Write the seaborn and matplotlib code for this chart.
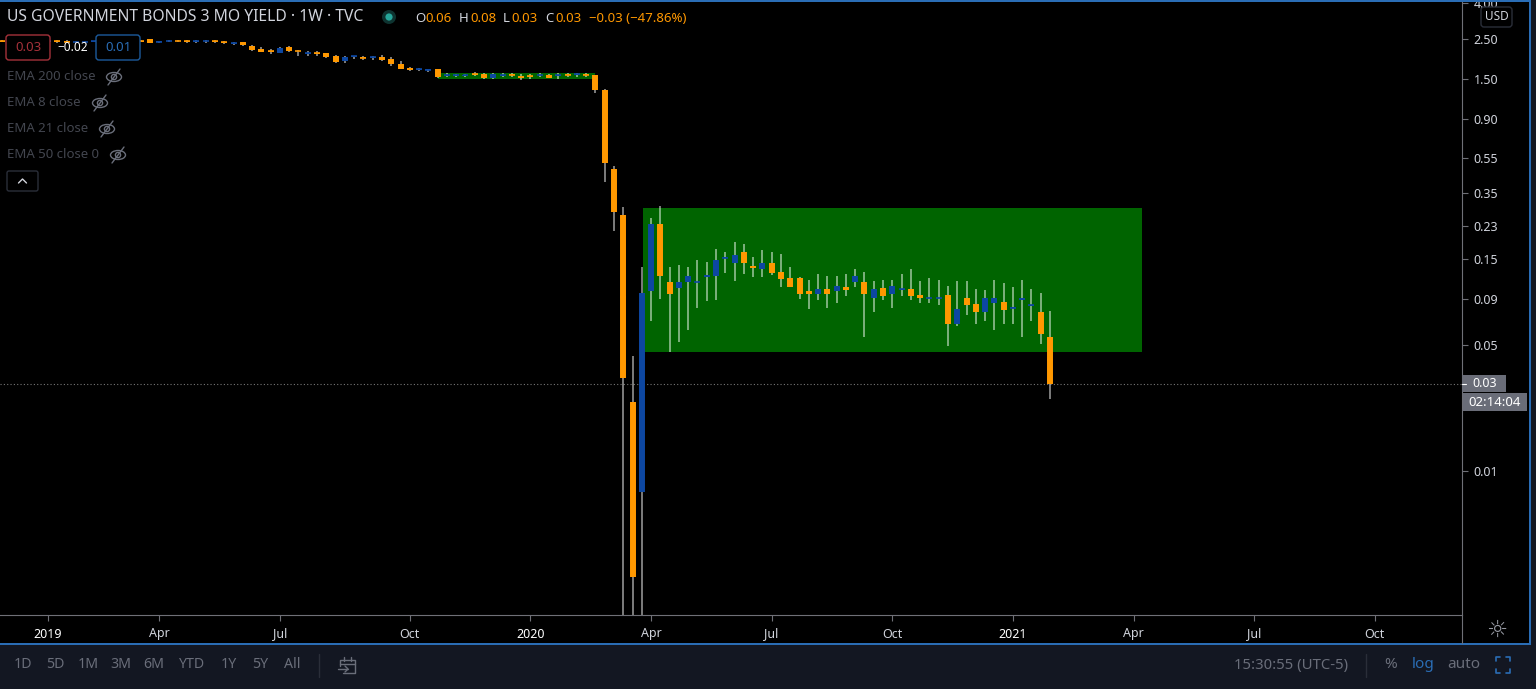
#!/usr/bin/env python3

""" US 3 month yield, weekly candles (log scale) """

import numpy as np
import pandas as pd
import seaborn as sns
import matplotlib.pyplot as plt
from matplotlib.patches import Rectangle, FancyBboxPatch, Ellipse, Circle

# weekly candles, 114 bars
opens = [2.44, 2.44, 2.43, 2.44, 2.43, 2.43, 2.44, 2.44, 2.42, 2.42,
         2.43, 2.44, 2.43, 2.44, 2.43, 2.44, 2.50, 2.41, 2.44, 2.46,
         2.45, 2.42, 2.44, 2.46, 2.42, 2.37, 2.41, 2.31, 2.22, 2.15,
         2.10, 2.26, 2.16, 2.08, 2.10, 2.09, 2.03, 1.89, 2.00, 1.99,
         1.98, 2.00, 1.95, 1.83, 1.74, 1.69, 1.68, 1.71, 1.57, 1.57,
         1.57, 1.61, 1.60, 1.53, 1.57, 1.60, 1.57, 1.56, 1.58, 1.58,
         1.57, 1.60, 1.59, 1.60, 1.58, 1.31, 0.476, 0.263, 0.0243, 0.00765,
         0.100, 0.2356, 0.1126, 0.1035, 0.1118, 0.1119, 0.1192, 0.1212, 0.1520, 0.1436,
         0.1641, 0.1377, 0.1320, 0.1436, 0.1275, 0.1176, 0.1181, 0.1000, 0.0959, 0.1026,
         0.1004, 0.1048, 0.1118, 0.1126, 0.0911, 0.1043, 0.0962, 0.1017, 0.1022, 0.0950,
         0.0911, 0.0911, 0.0946, 0.0653, 0.0914, 0.0850, 0.0765, 0.0860, 0.0869, 0.0805,
         0.0888, 0.0829, 0.0767, 0.0558]
highs = [2.47, 2.47, 2.46, 2.47, 2.46, 2.46, 2.48, 2.48, 2.46, 2.46,
         2.46, 2.47, 2.46, 2.47, 2.46, 2.47, 2.51, 2.46, 2.49, 2.49,
         2.48, 2.49, 2.47, 2.47, 2.45, 2.41, 2.42, 2.32, 2.26, 2.20,
         2.26, 2.30, 2.19, 2.16, 2.16, 2.10, 2.04, 2.02, 2.03, 2.02,
         2.01, 2.05, 1.99, 1.90, 1.76, 1.74, 1.71, 1.72, 1.62, 1.61,
         1.61, 1.65, 1.62, 1.62, 1.62, 1.63, 1.61, 1.60, 1.63, 1.61,
         1.62, 1.63, 1.62, 1.63, 1.59, 1.32, 0.495, 0.293, 0.0435, 0.1365,
         0.2556, 0.2967, 0.1359, 0.1395, 0.1359, 0.1487, 0.1453, 0.1711, 0.1647, 0.1871,
         0.1815, 0.1539, 0.1690, 0.1647, 0.1599, 0.1359, 0.1190, 0.1151, 0.1243, 0.1207,
         0.1207, 0.1248, 0.1320, 0.1275, 0.1131, 0.1151, 0.1151, 0.1248, 0.1331, 0.1140,
         0.1181, 0.1151, 0.1066, 0.1131, 0.1131, 0.1022, 0.1009, 0.1151, 0.1104, 0.1056,
         0.1151, 0.1022, 0.0971, 0.0771]
lows = [2.41, 2.41, 2.41, 2.41, 2.41, 2.41, 2.40, 2.40, 2.40, 2.40,
        2.41, 2.41, 2.41, 2.41, 2.41, 2.41, 2.39, 2.40, 2.41, 2.41,
        2.39, 2.38, 2.40, 2.40, 2.36, 2.33, 2.29, 2.16, 2.12, 2.08,
        2.10, 2.13, 2.02, 2.03, 2.03, 1.98, 1.85, 1.85, 1.94, 1.92,
        1.91, 1.90, 1.78, 1.70, 1.66, 1.66, 1.64, 1.52, 1.55, 1.55,
        1.55, 1.56, 1.51, 1.50, 1.55, 1.55, 1.49, 1.50, 1.55, 1.52,
        1.50, 1.55, 1.55, 1.55, 1.26, 0.405, 0.216, 0.001, 0.001, 0.001,
        0.0677, 0.0903, 0.0458, 0.0518, 0.0607, 0.0808, 0.0883, 0.0891, 0.1259, 0.1131,
        0.1238, 0.1196, 0.1196, 0.1232, 0.1056, 0.1050, 0.0906, 0.0791, 0.0891, 0.0808,
        0.0860, 0.0942, 0.1056, 0.0555, 0.0765, 0.0891, 0.0808, 0.0942, 0.0891, 0.0860,
        0.0860, 0.0833, 0.0497, 0.0635, 0.0731, 0.0653, 0.0682, 0.0605, 0.0653, 0.0653,
        0.0555, 0.0682, 0.0510, 0.0252]
closes = [2.43, 2.43, 2.44, 2.43, 2.42, 2.44, 2.43, 2.42, 2.43, 2.43,
          2.44, 2.43, 2.44, 2.43, 2.44, 2.43, 2.40, 2.45, 2.46, 2.44,
          2.42, 2.45, 2.46, 2.41, 2.39, 2.40, 2.32, 2.19, 2.12, 2.13,
          2.25, 2.16, 2.15, 2.10, 2.08, 2.00, 1.87, 2.00, 2.02, 1.97,
          2.00, 1.91, 1.82, 1.71, 1.69, 1.71, 1.70, 1.55, 1.59, 1.59,
          1.58, 1.59, 1.53, 1.60, 1.58, 1.58, 1.53, 1.55, 1.59, 1.53,
          1.58, 1.58, 1.60, 1.58, 1.31, 0.514, 0.275, 0.0329, 0.00258, 0.0975,
          0.2356, 0.1212, 0.0958, 0.1126, 0.1212, 0.1126, 0.1227, 0.1487, 0.1539, 0.1585,
          0.1426, 0.1347, 0.1436, 0.1264, 0.1170, 0.1056, 0.0959, 0.0959, 0.1026, 0.0959,
          0.1066, 0.1013, 0.1212, 0.0958, 0.1022, 0.0942, 0.1066, 0.1030, 0.0938, 0.0911,
          0.0918, 0.0918, 0.0653, 0.0791, 0.0833, 0.0765, 0.0914, 0.0914, 0.0787, 0.0812,
          0.0914, 0.0836, 0.0579, 0.0304]

# axis ticks
price_ticks = [4.00, 2.50, 1.50, 0.90, 0.55, 0.35, 0.23, 0.15, 0.09, 0.05, 0.01]
price_labels = ['4.00', '2.50', '1.50', '0.90', '0.55', '0.35', '0.23', '0.15', '0.09', '0.05', '0.01']
time_ticks = [5, 17, 30, 44, 57, 70, 83, 96, 109, 122, 135, 148]
time_labels = ['2019', 'Apr', 'Jul', 'Oct', '2020', 'Apr', 'Jul', 'Oct', '2021', 'Apr', 'Jul', 'Oct']

# green boxes drawn on the chart (weeks, prices)
box_weeks = [(47.0, 64.0), (69.1, 122.9)]
box_prices = [(1.51, 1.62), (0.0458, 0.289)]

# toolbar
ranges = ['1D', '5D', '1M', '3M', '6M', 'YTD', '1Y', '5Y', 'All']
range_x = [23, 55, 88, 121, 154, 192, 229, 260, 292]

ORANGE = '#ff9800'
BLUE = '#0d47a1'
WICK = (1, 1, 1, 0.55)
GREEN = '#006400'
AXIS = '#6f7077'
TEXT = '#d1d4dc'
MUTED = '#6a6e7a'
DIM = '#43464f'
TOOLBAR = '#131722'
BORDER = '#2a6db5'
LINE = '#2a2e39'

sns.set_theme(style='dark', rc={'figure.facecolor': 'black', 'axes.facecolor': 'black'})
plt.rcParams['font.family'] = ['Noto Sans', 'DejaVu Sans']

W, H = 1536, 689
fig = plt.figure(figsize=(W / 100, H / 100), dpi=100)
ax = fig.add_axes([0, (H - 615) / H, 1462 / W, 613 / H], zorder=1)

# %% candles
df = pd.DataFrame({'week': range(len(opens)), 'open': opens, 'high': highs, 'low': lows, 'close': closes})
df['up'] = df['close'] >= df['open']
df['mid'] = np.sqrt(df['open'] * df['close'])

wicks = df.melt(id_vars='week', value_vars=['high', 'low'], value_name='price')
bodies = df.melt(id_vars=['week', 'up'], value_vars=['open', 'close'], value_name='price')
colors = {True: BLUE, False: ORANGE}

ax.set_yscale('log')
for (w0, w1), (p0, p1) in zip(box_weeks, box_prices):
    ax.add_patch(Rectangle((w0, p0), w1 - w0, p1 - p0, fc=GREEN, ec='none', zorder=1))

ax.axhline(closes[-1], color='#777777', lw=0.8, ls=(0, (1, 2)), zorder=1.5)
sns.lineplot(data=wicks, x='week', y='price', units='week', estimator=None, color=WICK,
             lw=1.25, solid_capstyle='butt', legend=False, ax=ax, zorder=2)
sns.lineplot(data=bodies[~bodies['up']], x='week', y='price', units='week', estimator=None, color=ORANGE,
             lw=4.3, solid_capstyle='butt', legend=False, ax=ax, zorder=3)
sns.lineplot(data=bodies[bodies['up']], x='week', y='price', units='week', estimator=None, color=BLUE,
             lw=4.3, solid_capstyle='butt', legend=False, ax=ax, zorder=3)
# thin bodies still show as a dash
sns.scatterplot(data=df, x='week', y='mid', hue='up', palette=colors, marker='_', s=18.5, linewidth=1.2,
                legend=False, ax=ax, zorder=3)

# %% axes
ax.set_xlim(-0.17, 157.4)
ax.set_ylim(0.001585, 4.03)
ax.set_xlabel('')
ax.set_ylabel('')
ax.set_facecolor('black')
ax.yaxis.tick_right()
ax.set_yticks(price_ticks, price_labels)
ax.minorticks_off()
ax.set_xticks(time_ticks, time_labels)
ax.tick_params(axis='y', length=4, width=0.8, color=AXIS, labelcolor=TEXT, labelsize=9, pad=4.5, right=True)
ax.tick_params(axis='x', length=4, width=0.8, color=AXIS, labelcolor=TEXT, labelsize=9, pad=5, bottom=True)
for lab in ax.get_xticklabels():
    if lab.get_text().isdigit():
        lab.set_fontweight('bold')
        lab.set_color('white')
for side in ['left', 'top']:
    ax.spines[side].set_visible(False)
for side in ['right', 'bottom']:
    ax.spines[side].set_color(AXIS)
    ax.spines[side].set_linewidth(0.8)

# %% everything around the chart, in pixels
ov = fig.add_axes([0, 0, 1, 1], zorder=2)
ov.set_xlim(0, W)
ov.set_ylim(H, 0)
ov.axis('off')
ov.patch.set_alpha(0)


def label(x, y, s, color=TEXT, size=9, ha='left', **kw):
    ov.text(x, y, s, color=color, fontsize=size, ha=ha, va='center', **kw)


def box(x0, y0, x1, y1, fc='black', ec='none', round_=0, lw=1):
    if round_:
        ov.add_patch(FancyBboxPatch((x0, y0), x1 - x0, y1 - y0, boxstyle=f'round,pad=0,rounding_size={round_}',
                                    fc=fc, ec=ec, lw=lw))
    else:
        ov.add_patch(Rectangle((x0, y0), x1 - x0, y1 - y0, fc=fc, ec=ec, lw=lw))


def eye(x, y):
    ov.add_patch(Ellipse((x, y), 15, 9, fc='none', ec=MUTED, lw=1))
    ov.add_patch(Circle((x, y), 2.6, fc='none', ec=MUTED, lw=1))
    ov.plot([x - 6, x + 6], [y + 8, y - 8], color=MUTED, lw=1)


# frame and toolbar
box(0, 645, W, H, fc=TOOLBAR)
box(1531, 0, W, H, fc=TOOLBAR)
box(0, 0, 1531, 2, fc=BORDER)
box(0, 643, 1531, 645, fc=BORDER)
box(1529, 0, 1531, 645, fc=BORDER)
ov.plot([1462, 1462], [615, 643], color=AXIS, lw=0.8)

# header
label(7, 17, 'US GOVERNMENT BONDS 3 MO YIELD · 1W · TVC', size=11.3)
ov.add_patch(Circle((389, 17), 7, fc='#0e3330', ec='none'))
ov.add_patch(Circle((389, 17), 3.6, fc='#26a69a', ec='none'))
for x, name, x2, val in [(415, 'O', 425, '0.06'), (459, 'H', 470, '0.08'), (503, 'L', 511, '0.03'), (545, 'C', 555, '0.03')]:
    label(x, 18, name, size=9.5)
    label(x2, 18, val, color=ORANGE, size=9.5)
label(589, 18, '−0.03 (−47.86%)', color=ORANGE, size=9.5)

# buy / sell boxes
box(6, 35, 50, 60, ec='#a5313a', round_=3)
label(28, 47.5, '0.03', color='#a5313a', size=9.5, ha='center')
label(73, 47.5, '−0.02', color='white', size=8.5, ha='center')
box(96, 35, 140, 60, ec='#1c5a9c', round_=3)
label(118, 47.5, '0.01', color='#2a6db5', size=9.5, ha='center')

# indicators
for y, s, ex in [(77, 'EMA 200 close', 114), (103, 'EMA 8 close', 100), (129, 'EMA 21 close', 107), (155, 'EMA 50 close 0', 118)]:
    label(7, y, s, color=DIM, size=9.5)
    eye(ex, y)
box(7, 171, 38, 191, ec=LINE, round_=2)
ov.plot([18.5, 22.5, 26.5], [183, 179, 183], color=TEXT, lw=1)

# price scale
box(1481, 7, 1512, 27, ec=LINE, round_=3)
label(1496.5, 17, 'USD', size=8.5, ha='center')
box(1462, 375, 1506, 392, fc='#6a6d78')
ov.plot([1462, 1466], [384, 384], color='white', lw=0.8)
label(1472, 383.5, f'{closes[-1]:.2f}', color='white', size=9)
box(1463, 393, 1527, 411, fc='#6a6d78')
label(1495, 402, '02:14:04', color='white', size=9.5, ha='center')
label(1497, 630, '☼', color='#9598a1', size=17, ha='center', family=['DejaVu Sans'])

# toolbar text
for x, s in zip(range_x, ranges):
    label(x, 665, s, color=MUTED, size=10.2, ha='center')
ov.plot([319, 319], [654, 677], color=LINE, lw=1)
ov.plot([340, 340, 355, 355, 343], [666, 660, 660, 673, 673], color=MUTED, lw=1)
ov.plot([340, 355], [664, 664], color=MUTED, lw=1)
ov.plot([344, 344], [657, 661], color=MUTED, lw=1)
ov.plot([351, 351], [657, 661], color=MUTED, lw=1)
ov.plot([338, 348], [669, 669], color=MUTED, lw=1)
ov.plot([345, 348, 345], [666, 669, 672], color=MUTED, lw=1)
label(1291, 665, '15:30:55 (UTC-5)', color=MUTED, size=10.7, ha='center')
ov.plot([1366, 1366], [654, 677], color=LINE, lw=1)
label(1391, 665, '%', color=MUTED, size=11, ha='center')
label(1423, 665, 'log', color='#2a6db5', size=11, ha='center')
label(1464, 665, 'auto', color=MUTED, size=11, ha='center')
for xs, ys in [([1496, 1496, 1500], [661, 657, 657]), ([1506, 1510, 1510], [657, 657, 661]),
               ([1496, 1496, 1500], [669, 673, 673]), ([1506, 1510, 1510], [673, 673, 669])]:
    ov.plot(xs, ys, color='#2a6db5', lw=1.2)
ov.set_xlim(0, W)
ov.set_ylim(H, 0)

fig.savefig('out.png', dpi=100, facecolor='black')
